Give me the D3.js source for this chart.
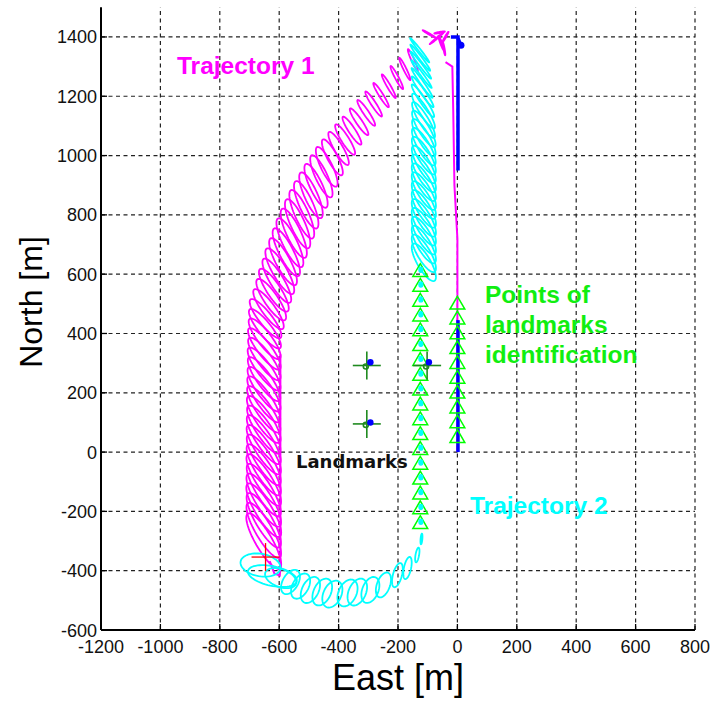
<!DOCTYPE html>
<html>
<head>
<meta charset="utf-8">
<script src="https://cdn.jsdelivr.net/npm/d3@7"></script>
<style>
  html, body { margin: 0; padding: 0; background: #fff; }
  svg { display: block; }
</style>
</head>
<body>
<div id="chart"></div>
<script>
const xTicks = [-1200, -1000, -800, -600, -400, -200, 0, 200, 400, 600, 800];
const yTicks = [-600, -400, -200, 0, 200, 400, 600, 800, 1000, 1200, 1400];

// error ellipses along trajectory 1: [east, north, semi-major, semi-minor, angle deg]
const traj1Ellipses = [
  // thin ones after the turn
  [-150, 1322, 40, 5, -66], [-177, 1292, 42, 5, -64], [-204, 1263, 44, 6, -62],
  [-231, 1234, 46, 6, -60], [-257, 1204, 48, 7, -58], [-282, 1174, 50, 8, -57],
  [-307, 1144, 52, 9, -56], [-331, 1114, 54, 10, -56], [-355, 1084, 56, 11, -57],
  [-378, 1054, 60, 13, -58], [-400, 1024, 64, 15, -60], [-421, 994, 68, 17, -62],
  // growing on the diagonal leg
  [-440, 962, 74, 19, -64], [-458, 930, 78, 20, -65], [-476, 898, 81, 21, -65],
  [-493, 866, 84, 22, -66], [-509, 834, 87, 23, -66], [-524, 802, 89, 23, -66],
  [-538, 770, 90, 24, -66], [-551, 738, 91, 24, -65], [-564, 706, 91, 24, -64],
  [-576, 674, 90, 24, -63], [-587, 642, 89, 24, -62], [-598, 610, 88, 24, -60],
  [-608, 578, 86, 23, -59], [-618, 546, 85, 23, -57], [-627, 514, 83, 23, -56],
  [-636, 482, 82, 22, -54],
  // southbound leg
  [-646, 450, 82, 22, -52], [-648, 416, 83, 22, -52], [-649, 382, 84, 23, -53],
  [-650, 348, 86, 23, -53], [-650, 314, 87, 24, -54], [-651, 280, 88, 24, -54],
  [-651, 246, 89, 24, -55], [-651, 212, 90, 25, -55], [-652, 178, 92, 25, -56],
  [-652, 144, 93, 25, -56], [-652, 110, 94, 26, -56], [-652, 76, 95, 26, -57],
  [-652, 42, 97, 26, -57], [-652, 8, 98, 26, -57], [-652, -26, 99, 27, -58],
  [-652, -60, 100, 27, -58], [-652, -94, 101, 27, -58], [-652, -128, 102, 27, -59],
  [-652, -162, 103, 28, -59], [-652, -196, 104, 28, -59], [-652, -230, 105, 28, -60],
  [-652, -264, 106, 28, -60], [-652, -300, 107, 28, -60]
];

// degenerate ellipses near the turn at the top
const traj1Scribbles = [
  [-95, 1410, 25, 2, -30], [-70, 1395, 30, 2, 40], [-55, 1380, 25, 3, -70],
  [-40, 1400, 20, 2, 60], [-45, 1360, 22, 2, -80], [-60, 1415, 18, 2, 10]
];

const traj1Line = [[0, 0], [0, 720], [-10, 900], [-14, 1150], [-17, 1300], [-40, 1315]];
const traj1LegLine = [[-596, 330], [-596, -400]];
const traj1Hook = [[-632, -368], [-616, -410], [-598, -416], [-596, -385]];

// error ellipses along trajectory 2
const traj2Ellipses = [
  [-663, -381, 68, 38, -10], [-623, -418, 84, 33, -12], [-595, -425, 55, 30, -20],
  [-562, -438, 45, 26, 60], [-528, -452, 46, 27, 62], [-495, -465, 47, 28, 64],
  [-455, -472, 48, 29, 65], [-421, -479, 48, 30, 65], [-370, -475, 48, 30, 65],
  [-337, -472, 48, 29, 66], [-293, -465, 46, 27, 68], [-249, -448, 44, 22, 70],
  [-202, -415, 42, 15, 75], [-168, -391, 38, 12, 78], [-135, -347, 25, 6, 80],
  [-121, -293, 18, 3, 85],
  [-113, 640, 72, 22, -60], [-113, 670, 72, 22, -60], [-113, 700, 72, 22, -60],
  [-113, 730, 72, 22, -60], [-113, 760, 72, 22, -60], [-113, 790, 72, 22, -60],
  [-113, 820, 72, 22, -60], [-113, 850, 72, 22, -60], [-113, 880, 72, 22, -60],
  [-113, 910, 72, 22, -60], [-113, 940, 72, 22, -60], [-113, 970, 72, 21, -60],
  [-113, 1000, 72, 21, -60], [-113, 1030, 72, 20, -60], [-113, 1060, 72, 19, -60],
  [-113, 1090, 71, 18, -59], [-114, 1120, 70, 16, -59], [-114, 1150, 69, 14, -58],
  [-116, 1185, 66, 10, -56], [-117, 1215, 63, 8, -55], [-119, 1245, 61, 6, -55],
  [-121, 1275, 58, 5, -54], [-123, 1305, 57, 5, -53], [-125, 1330, 55, 5, -53],
  [-127, 1355, 52, 4, -52]
];
// small ellipses where landmarks were identified (trajectory 2)
const traj2DotNorth = [-235, -185, -135, -85, -35, 15, 65, 115, 165, 215, 265, 315, 365, 415, 465, 515, 565, 615];

const blueLow = [[2, 0], [2, 445]];
const blueHigh = [[-22, 1400], [2, 1400], [2, 950]];
const blueTip = [[2, 1395], [12, 1372]];

const idPoints2North = [-240, -190, -140, -90, -40, 10, 60, 110, 160, 210, 260, 310, 360, 410, 460, 510, 560, 610];
const idPoints1North = [50, 100, 150, 200, 250, 300, 350, 400, 450, 500];

const landmarksTrue = [[-305, 292], [-305, 95], [-102, 292]];
const landmarksEst = [[-293, 303], [-293, 100], [-96, 303]];
const redCross = [-646, -354];

const W = 712, H = 702;
const x = d3.scaleLinear().domain([-1200, 800]).range([101, 695]);
const y = d3.scaleLinear().domain([-600, 1500]).range([630, 7.3]);

const svg = d3.select("#chart").append("svg")
  .attr("width", W).attr("height", H)
  .style("font-family", "'Liberation Sans', Arial, sans-serif");

// grid
const grid = svg.append("g").attr("stroke", "#222").attr("stroke-width", 1.2)
  .attr("stroke-dasharray", "4,3.5");
grid.selectAll("line.v").data(xTicks.slice(1)).enter().append("line")
  .attr("x1", d => x(d)).attr("x2", d => x(d)).attr("y1", y(-600)).attr("y2", y(1500));
grid.selectAll("line.h").data(yTicks.slice(1)).enter().append("line")
  .attr("x1", x(-1200)).attr("x2", x(800)).attr("y1", d => y(d)).attr("y2", d => y(d));

const line = d3.line().x(d => x(d[0])).y(d => y(d[1]));
const closed = d3.line().x(d => x(d[0])).y(d => y(d[1])).curve(d3.curveLinearClosed);

function ellipsePts(e) {
  const [cx, cy, a, b, ang] = e;
  const th = ang * Math.PI / 180;
  const pts = [];
  for (let i = 0; i < 60; i++) {
    const t = i / 60 * 2 * Math.PI;
    pts.push([
      cx + a * Math.cos(th) * Math.cos(t) - b * Math.sin(th) * Math.sin(t),
      cy + a * Math.sin(th) * Math.cos(t) + b * Math.cos(th) * Math.sin(t)
    ]);
  }
  return pts;
}

const magenta = "#ff00ff", cyan = "#00ffff", lime = "#00ff00";

// trajectory 1
svg.append("g").selectAll("path").data(traj1Ellipses.concat(traj1Scribbles)).enter().append("path")
  .attr("d", d => closed(ellipsePts(d)))
  .attr("fill", "none").attr("stroke", magenta).attr("stroke-width", 1.8);
[traj1Line, traj1LegLine, traj1Hook].forEach(l => {
  svg.append("path").attr("d", line(l)).attr("fill", "none")
    .attr("stroke", magenta).attr("stroke-width", 2);
});

// trajectory 2
svg.append("g").selectAll("path").data(traj2Ellipses).enter().append("path")
  .attr("d", d => closed(ellipsePts(d)))
  .attr("fill", "none").attr("stroke", cyan).attr("stroke-width", 1.8);

// blue path
[blueLow, blueHigh, blueTip].forEach(l => {
  svg.append("path").attr("d", line(l)).attr("fill", "none")
    .attr("stroke", "#0000ff").attr("stroke-width", 3.5);
});
svg.append("circle").attr("cx", x(12)).attr("cy", y(1372)).attr("r", 3.5).attr("fill", "#0000ff");

// identification points
const tri = d3.symbol().type(d3.symbolTriangle).size(95);
function triangles(xv, ys) {
  svg.append("g").selectAll("path").data(ys).enter().append("path")
    .attr("d", tri)
    .attr("transform", d => `translate(${x(xv)},${y(d) + 1})`)
    .attr("fill", "none").attr("stroke", lime).attr("stroke-width", 1.5);
}
triangles(-125, idPoints2North);
triangles(0, idPoints1North);
svg.append("g").selectAll("ellipse").data(traj2DotNorth).enter().append("ellipse")
  .attr("cx", x(-123)).attr("cy", d => y(d)).attr("rx", 2).attr("ry", 2.6)
  .attr("fill", cyan).attr("stroke", cyan).attr("stroke-width", 1.2);

// landmarks
const lm = svg.append("g").attr("stroke", "#1f8a1f").attr("stroke-width", 1.6);
landmarksTrue.forEach(d => {
  lm.append("line").attr("x1", x(d[0]) - 14).attr("x2", x(d[0]) + 14)
    .attr("y1", y(d[1])).attr("y2", y(d[1]));
  lm.append("line").attr("x1", x(d[0])).attr("x2", x(d[0]))
    .attr("y1", y(d[1]) - 14).attr("y2", y(d[1]) + 14);
  lm.append("circle").attr("cx", x(d[0]) - 1).attr("cy", y(d[1]) + 1).attr("r", 2.5)
    .attr("fill", "none");
});
svg.append("g").selectAll("circle").data(landmarksEst).enter().append("circle")
  .attr("cx", d => x(d[0])).attr("cy", d => y(d[1])).attr("r", 3.2).attr("fill", "#0000ff");

// red cross
svg.append("g").attr("stroke", "#ff0000").attr("stroke-width", 1.3).call(g => {
  g.append("line").attr("x1", x(redCross[0]) - 14).attr("x2", x(redCross[0]) + 14)
    .attr("y1", y(redCross[1])).attr("y2", y(redCross[1]));
  g.append("line").attr("x1", x(redCross[0])).attr("x2", x(redCross[0]))
    .attr("y1", y(redCross[1]) - 14).attr("y2", y(redCross[1]) + 14);
});

// axes
svg.append("line").attr("x1", x(-1200)).attr("x2", x(-1200)).attr("y1", y(-600)).attr("y2", y(1500))
  .attr("stroke", "#000").attr("stroke-width", 2);
svg.append("line").attr("x1", x(-1200)).attr("x2", x(800)).attr("y1", y(-600)).attr("y2", y(-600))
  .attr("stroke", "#000").attr("stroke-width", 2);
svg.append("g").selectAll("line").data(xTicks).enter().append("line")
  .attr("x1", d => x(d)).attr("x2", d => x(d)).attr("y1", y(-600)).attr("y2", y(-600) - 6)
  .attr("stroke", "#000").attr("stroke-width", 1.3);
svg.append("g").selectAll("line").data(yTicks).enter().append("line")
  .attr("x1", x(-1200)).attr("x2", x(-1200) + 6).attr("y1", d => y(d)).attr("y2", d => y(d))
  .attr("stroke", "#000").attr("stroke-width", 1.3);

svg.append("g").selectAll("text").data(xTicks).enter().append("text")
  .attr("x", d => x(d)).attr("y", y(-600) + 23).attr("text-anchor", "middle")
  .attr("font-size", 18).attr("fill", "#111").text(d => d);
svg.append("g").selectAll("text").data(yTicks).enter().append("text")
  .attr("x", x(-1200) - 4).attr("y", d => y(d) + 6.5).attr("text-anchor", "end")
  .attr("font-size", 18).attr("fill", "#111").text(d => d);

svg.append("text").attr("x", 398).attr("y", 690).attr("text-anchor", "middle")
  .attr("font-size", 36).attr("fill", "#000").text("East [m]");
svg.append("text").attr("transform", "translate(42,302) rotate(-90)").attr("text-anchor", "middle")
  .attr("font-size", 32).attr("fill", "#000").text("North [m]");

// annotations
svg.append("text").attr("x", 177).attr("y", 74).attr("font-size", 24.5).attr("font-weight", "bold")
  .attr("fill", magenta).text("Trajectory 1");
svg.append("text").attr("x", 470).attr("y", 514).attr("font-size", 24.5).attr("font-weight", "bold")
  .attr("fill", cyan).text("Trajectory 2");
const pts = svg.append("text").attr("font-size", 24.5).attr("font-weight", "bold").attr("fill", "#11ee11");
["Points of", "landmarks", "identification"].forEach((t, i) => {
  pts.append("tspan").attr("x", 485).attr("y", 303 + i * 30).text(t);
});
svg.append("text").attr("x", 296).attr("y", 468).attr("font-size", 18).attr("font-weight", "bold")
  .attr("font-family", "'DejaVu Sans', sans-serif").attr("fill", "#111").text("Landmarks");
</script>
</body>
</html>
